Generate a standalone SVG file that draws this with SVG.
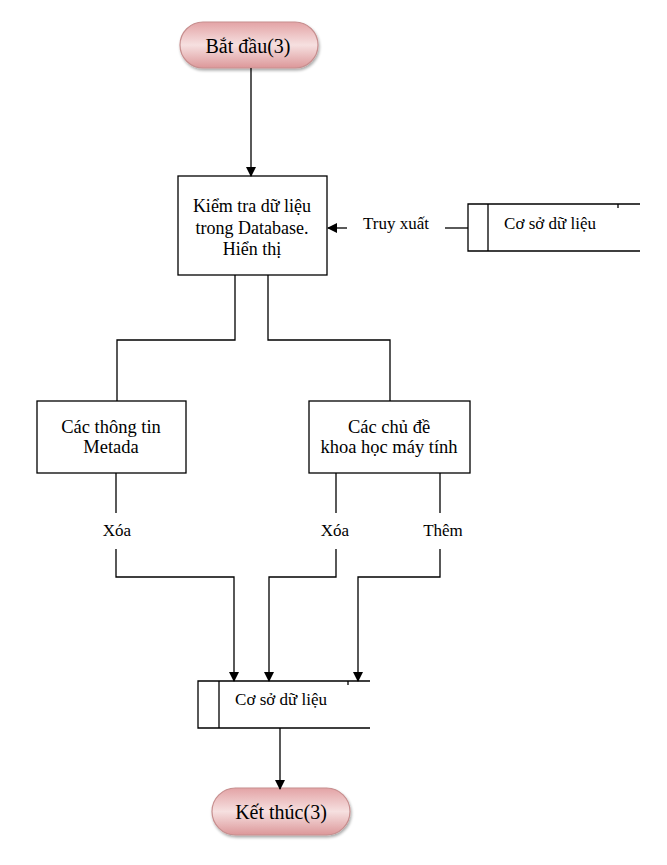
<svg xmlns="http://www.w3.org/2000/svg" width="667" height="865" viewBox="0 0 667 865">
<style>
.t{font-family:"Liberation Serif","Times New Roman",serif;fill:#000;text-anchor:middle}
.box{fill:#fff;stroke:#000;stroke-width:1.3}
.ln{fill:none;stroke:#000;stroke-width:1.3}
.pill{fill:url(#pg);stroke:#c78f8f;stroke-width:1.2}
</style>
<defs>
<linearGradient id="pg" x1="0" y1="0" x2="0" y2="1">
<stop offset="0" stop-color="#e3a3a5"/>
<stop offset="0.5" stop-color="#f6e0e0"/>
<stop offset="1" stop-color="#dc9799"/>
</linearGradient>
<filter id="sh" x="-10%" y="-10%" width="130%" height="140%">
<feGaussianBlur in="SourceAlpha" stdDeviation="1.5"/>
<feOffset dx="1" dy="2" result="o"/>
<feComponentTransfer><feFuncA type="linear" slope="0.35"/></feComponentTransfer>
<feMerge><feMergeNode/><feMergeNode in="SourceGraphic"/></feMerge>
</filter>
<marker id="ah" markerWidth="10" markerHeight="10" refX="9" refY="5" orient="auto" markerUnits="userSpaceOnUse">
<path d="M0,0 L10,5 L0,10 Z" fill="#000"/>
</marker>
</defs>

<g id="start">
<rect class="pill" x="180" y="22" width="138" height="46" rx="23" filter="url(#sh)"/>
<text class="t" x="248" y="53" font-size="20">Bắt đầu(3)</text>
</g>

<g id="check">
<rect class="box" x="178" y="176" width="149" height="99"/>
<text class="t" x="252" y="212" font-size="18">Kiểm tra dữ liệu</text>
<text class="t" x="252" y="234" font-size="18">trong Database.</text>
<text class="t" x="252" y="255" font-size="18">Hiển thị</text>
</g>

<g id="db1">
<path class="ln" d="M640,204 H468 V251 H640 M488,204 V251 M618,204 V208"/>
<text class="t" x="550" y="229" font-size="17">Cơ sở dữ liệu</text>
</g>

<g id="metadata">
<rect class="box" x="37" y="401" width="149" height="72"/>
<text class="t" x="111" y="433" font-size="18.5">Các thông tin</text>
<text class="t" x="111" y="453" font-size="18.5">Metada</text>
</g>

<g id="topics">
<rect class="box" x="309" y="401" width="161" height="72"/>
<text class="t" x="389" y="433" font-size="18.5">Các chủ đề</text>
<text class="t" x="389" y="453" font-size="18.5">khoa học máy tính</text>
</g>

<g id="db2">
<path class="ln" d="M370,681 H198 V728 H370 M219,681 V728 M348,681 V685"/>
<text class="t" x="281" y="705" font-size="17">Cơ sở dữ liệu</text>
</g>

<g id="end">
<rect class="pill" x="212" y="788" width="138" height="47" rx="23.5" filter="url(#sh)"/>
<text class="t" x="281" y="819" font-size="20">Kết thúc(3)</text>
</g>

<g id="connectors">
<line class="ln" x1="251" y1="68" x2="251" y2="176" marker-end="url(#ah)"/>
<line class="ln" x1="468" y1="228" x2="445" y2="228"/>
<line class="ln" x1="347" y1="228" x2="328" y2="228" marker-end="url(#ah)"/>
<text class="t" x="396" y="229" font-size="17">Truy xuất</text>
<path class="ln" d="M235,275 V340 H117 V401"/>
<path class="ln" d="M268,275 V340 H390 V401"/>
<line class="ln" x1="116" y1="473" x2="116" y2="513"/>
<text class="t" x="117" y="536" font-size="17">Xóa</text>
<path class="ln" d="M116,549 V577 H234 V681" marker-end="url(#ah)"/>
<line class="ln" x1="336" y1="473" x2="336" y2="513"/>
<text class="t" x="335" y="536" font-size="17">Xóa</text>
<path class="ln" d="M336,549 V577 H269 V681" marker-end="url(#ah)"/>
<line class="ln" x1="440" y1="473" x2="440" y2="513"/>
<text class="t" x="443" y="536" font-size="17">Thêm</text>
<path class="ln" d="M440,549 V577 H358 V681" marker-end="url(#ah)"/>
<line class="ln" x1="280" y1="728" x2="280" y2="789" marker-end="url(#ah)"/>
</g>
</svg>
